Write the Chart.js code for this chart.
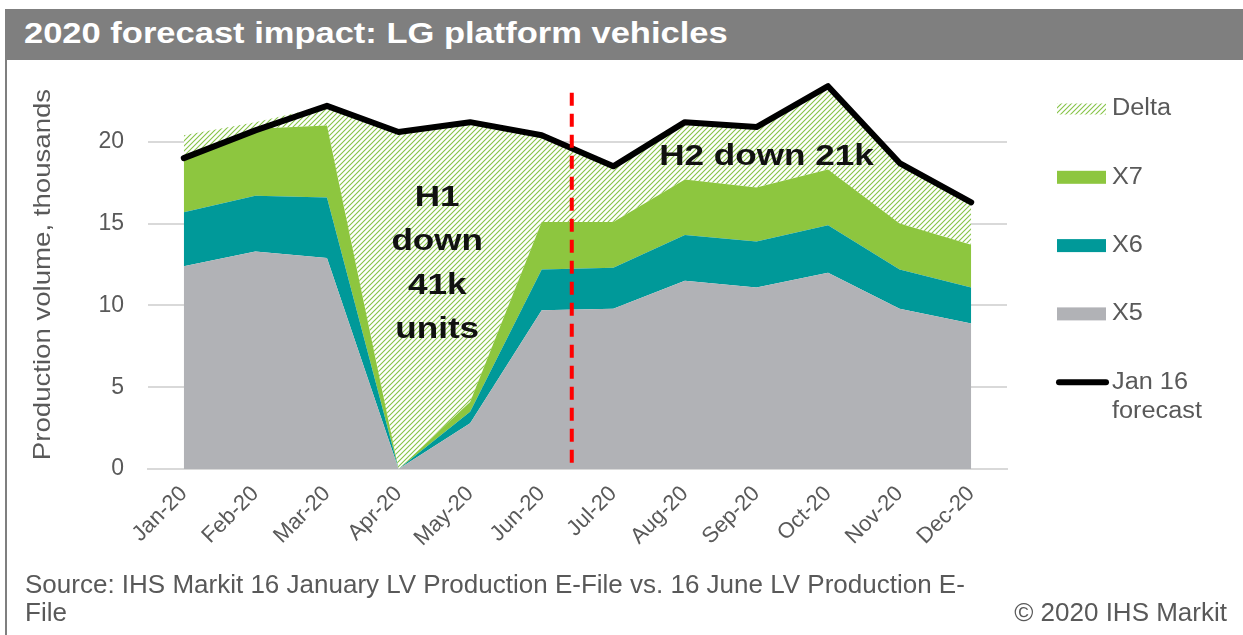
<!DOCTYPE html>
<html>
<head>
<meta charset="utf-8">
<title>2020 forecast impact: LG platform vehicles</title>
<script src="https://cdn.jsdelivr.net/npm/chart.js@4.4.0/dist/chart.umd.min.js"></script>
<style>
  html, body { margin: 0; padding: 0; background: #fff; }
  #wrap { position: relative; width: 1243px; height: 635px; overflow: hidden;
          font-family: "Liberation Sans", Arial, sans-serif; }
  #frame { position: absolute; left: 5px; top: 9px; width: 2px; height: 626px; background: #7f7f7f; }
  #title { position: absolute; left: 5px; top: 9px; right: 0; height: 51px; background: #7f7f7f; }
  #title span { position: absolute; left: 19px; top: 0; color: #fff; font-weight: bold; font-size: 30px;
                line-height: 48px; white-space: nowrap; transform: scaleX(1.15); transform-origin: left center; }
  #chartBox { position: absolute; left: 0; top: 0; width: 1243px; height: 635px; }
  .foot { position: absolute; color: #595959; font-size: 26px; line-height: 28px; white-space: nowrap; }
</style>
</head>
<body>
<div id="wrap">
  <div id="frame"></div>
  <div id="title"><span>2020 forecast impact: LG platform vehicles</span></div>
  <div id="chartBox"><canvas id="lgChart"></canvas></div>
  <div class="foot" style="left:25px; top:570px;">Source: IHS Markit 16 January LV Production E-File vs. 16 June LV Production E-<br>File</div>
  <div class="foot" style="right:16px; top:598px;">© 2020 IHS Markit</div>
</div>
<script>
// ===== Datos (miles de unidades) =====
const months = ["Jan-20", "Feb-20", "Mar-20", "Apr-20", "May-20", "Jun-20",
                "Jul-20", "Aug-20", "Sep-20", "Oct-20", "Nov-20", "Dec-20"];
const x5 = [12.4, 13.3, 12.9, 0, 2.8, 9.7, 9.8, 11.5, 11.1, 12.0, 9.8, 8.9];
const x6 = [3.3, 3.4, 3.7, 0, 0.7, 2.5, 2.5, 2.8, 2.8, 2.9, 2.4, 2.2];
const x7 = [3.2, 4.1, 4.4, 0, 0.6, 2.9, 2.8, 3.4, 3.3, 3.4, 2.8, 2.6];
const delta = [1.5, 0.4, 1.2, 20.6, 17.1, 5.3, 3.4, 3.5, 3.7, 5.1, 3.7, 2.6];
const janForecast = [19.0, 20.7, 22.2, 20.6, 21.2, 20.4, 18.5, 21.2, 20.9, 23.4, 18.7, 16.3];
const yTicks = [0, 5, 10, 15, 20];
const yTitle = "Production volume, thousands";

// Anotaciones: posicion en indice de categoria / valor
const h1Lines = ["H1", "down", "41k", "units"];
const h1Pos = { x: 3.54, y: [16.6, 13.9, 11.2, 8.5] };
const h2Text = "H2 down 21k";
const h2Pos = { x: 8.14, y: 19.1 };
const splitAt = { x: 5.42, yTop: 23.0 };

const GREY_TXT = "#595959";
const FONT = "'Liberation Sans', Arial, sans-serif";
Chart.defaults.font.family = FONT;
Chart.defaults.color = GREY_TXT;

// Relleno rayado para "Delta"
function makeHatch() {
  const c = document.createElement("canvas");
  c.width = 5; c.height = 5;
  const g = c.getContext("2d");
  g.fillStyle = "#fff";
  g.fillRect(0, 0, 5, 5);
  g.strokeStyle = "#86c447";
  g.lineWidth = 1.1;
  g.beginPath();
  g.moveTo(-1, 6); g.lineTo(6, -1);
  g.moveTo(-1, 1); g.lineTo(1, -1);
  g.moveTo(4, 6); g.lineTo(6, 4);
  g.stroke();
  return g.createPattern(c, "repeat");
}
const hatch = makeHatch();

// texto estirado en horizontal (la fuente original es mas ancha)
function wideText(ctx, text, x, y, sx) {
  ctx.save();
  ctx.translate(x, y);
  ctx.scale(sx, 1);
  ctx.fillText(text, 0, 0);
  ctx.restore();
}

// ===== Plugin: linea divisoria + textos =====
const annotations = {
  id: "annotations",
  afterDatasetsDraw(chart) {
    const { ctx, scales: { x, y } } = chart;
    ctx.save();
    // linea roja discontinua H1/H2
    const sx = x.getPixelForValue(splitAt.x);
    ctx.strokeStyle = "#ff0000";
    ctx.lineWidth = 4;
    ctx.setLineDash([13, 8]);
    ctx.beginPath();
    ctx.moveTo(sx, y.getPixelForValue(splitAt.yTop));
    ctx.lineTo(sx, y.getPixelForValue(0));
    ctx.stroke();
    ctx.setLineDash([]);

    ctx.fillStyle = "#111";
    ctx.font = "bold 30px " + FONT;
    ctx.textAlign = "center";
    ctx.textBaseline = "middle";
    const hx = x.getPixelForValue(h1Pos.x);
    h1Lines.forEach((t, i) => wideText(ctx, t, hx, y.getPixelForValue(h1Pos.y[i]), 1.17));
    wideText(ctx, h2Text, x.getPixelForValue(h2Pos.x), y.getPixelForValue(h2Pos.y), 1.17);

    // titulo del eje Y
    ctx.fillStyle = GREY_TXT;
    ctx.font = "24px " + FONT;
    ctx.translate(43, (chart.chartArea.top + chart.chartArea.bottom) / 2 + 10);
    ctx.rotate(-Math.PI / 2);
    wideText(ctx, yTitle, 0, 0, 1.15);
    ctx.restore();
  }
};

// ===== Plugin: leyenda a la derecha =====
const sideLegend = {
  id: "sideLegend",
  afterDraw(chart) {
    const { ctx } = chart;
    const ds = chart.data.datasets;
    const order = [3, 2, 1, 0, 4];
    const x0 = 1057, x1 = 1106, tx = 1112, top = 109, gap = 68.3;
    ctx.save();
    ctx.font = "23px " + FONT;
    ctx.textBaseline = "middle";
    ctx.textAlign = "left";
    order.forEach((idx, i) => {
      const d = ds[idx];
      const cy = top + i * gap;
      if (d.fill === false) {
        ctx.strokeStyle = d.borderColor;
        ctx.lineWidth = 6;
        ctx.lineCap = "round";
        ctx.beginPath();
        ctx.moveTo(x0 + 2, cy);
        ctx.lineTo(x1, cy);
        ctx.stroke();
      } else {
        const h = d.backgroundColor === hatch ? 11 : 13;
        ctx.fillStyle = d.backgroundColor;
        ctx.fillRect(x0, cy - h / 2, x1 - x0, h);
      }
      // texto con salto de linea simple
      const words = d.label.split(" ");
      const lines = [];
      let cur = "";
      words.forEach((w) => {
        const t = cur ? cur + " " + w : w;
        if (cur && ctx.measureText(t).width > 115) { lines.push(cur); cur = w; }
        else cur = t;
      });
      lines.push(cur);
      ctx.fillStyle = GREY_TXT;
      lines.forEach((l, j) => wideText(ctx, l, tx, cy + j * 29, 1.1));
    });
    ctx.restore();
  }
};

const area = (label, data, color, fill) => ({
  type: "line",
  label,
  data,
  backgroundColor: color,
  borderWidth: 0,
  pointRadius: 0,
  fill,
  tension: 0,
  stack: "vol",
  order: 1,
});

new Chart(document.getElementById("lgChart").getContext("2d"), {
  type: "line",
  data: {
    labels: months,
    datasets: [
      area("X5", x5, "#b1b2b6", "origin"),
      area("X6", x6, "#009999", "-1"),
      area("X7", x7, "#8dc63f", "-1"),
      area("Delta", delta, hatch, "-1"),
      {
        type: "line",
        label: "Jan 16 forecast",
        data: janForecast,
        borderColor: "#000",
        borderWidth: 6,
        borderJoinStyle: "round",
        borderCapStyle: "round",
        pointRadius: 0,
        fill: false,
        tension: 0,
        stack: "forecast",
        order: 0,
      },
    ],
  },
  options: {
    responsive: true,
    maintainAspectRatio: false,
    animation: false,
    events: [],
    layout: { padding: { left: 10, top: 60, right: 236, bottom: 0 } },
    plugins: {
      legend: { display: false },
      tooltip: { enabled: false },
    },
    scales: {
      x: {
        offset: true,
        grid: { display: false },
        border: { display: true, color: "#d9d9d9", width: 2 },
        ticks: {
          autoSkip: false,
          maxRotation: 45,
          minRotation: 45,
          padding: 4,
          font: { size: 22 },
          color: GREY_TXT,
        },
        afterFit: (s) => { s.height = 166; },
      },
      y: {
        stacked: true,
        min: 0,
        max: 25,
        afterBuildTicks: (s) => { s.ticks = yTicks.map((v) => ({ value: v })); },
        grid: { color: "#d9d9d9", lineWidth: 2, drawTicks: false },
        border: { display: false },
        ticks: { padding: 24, font: { size: 23 }, color: GREY_TXT },
        afterFit: (s) => { s.width = 138; },
      },
    },
  },
  plugins: [annotations, sideLegend],
});
</script>
</body>
</html>
